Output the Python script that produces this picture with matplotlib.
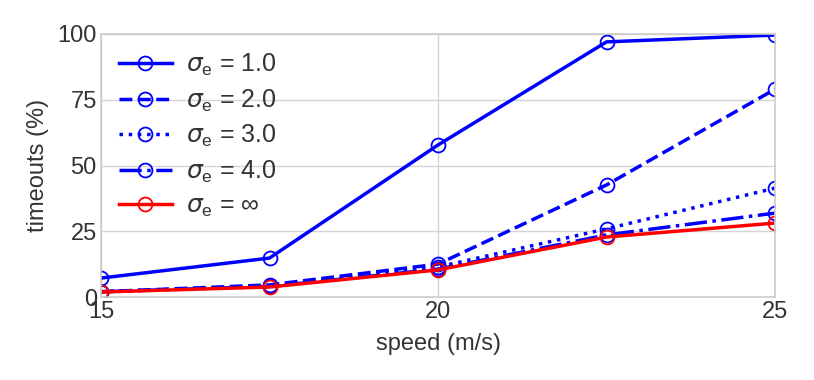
import matplotlib
matplotlib.use("Agg")
import matplotlib.pyplot as plt

speeds = [15, 17.5, 20, 22.5, 25]
s1 = [7.2, 14.8, 57.8, 97.0, 99.6]
s2 = [2.0, 4.6, 12.5, 42.6, 79.0]
s3 = [2.0, 4.2, 11.4, 25.9, 41.4]
s4 = [2.0, 4.0, 10.6, 23.6, 31.9]
sinf = [1.9, 3.8, 10.3, 22.8, 28.1]
labels = [r'$\sigma_\mathrm{e}$ = 1.0', r'$\sigma_\mathrm{e}$ = 2.0', r'$\sigma_\mathrm{e}$ = 3.0',
          r'$\sigma_\mathrm{e}$ = 4.0', r'$\sigma_\mathrm{e}$ = ∞']

plt.rcParams['font.family'] = ['Liberation Sans', 'DejaVu Sans']
plt.rcParams['mathtext.fontset'] = 'custom'
plt.rcParams['mathtext.rm'] = 'Liberation Sans'
plt.rcParams['mathtext.it'] = 'DejaVu Sans:italic'

fig = plt.figure(figsize=(8.14, 3.8), dpi=100)
ax = fig.add_axes([101/814, 1-297/380, (775-101)/814, (297-34)/380])

styles = [('-', 'blue'), ('--', 'blue'), (':', 'blue'), ('-.', 'blue'), ('-', 'red')]
for ys, (ls, c), lab in zip([s1, s2, s3, s4, sinf], styles, labels):
    ax.plot(speeds, ys, linestyle=ls, color=c, lw=2.5, marker='o', ms=10,
            mfc='none', mec=c, mew=1.3, label=lab)

ax.set_xlim(15, 25)
ax.set_ylim(0, 100)
ax.set_xticks([15, 20, 25])
ax.set_yticks([0, 25, 50, 75, 100])
ax.grid(True, color='#d4d4d4', lw=1)
ax.set_axisbelow(True)
for s in ax.spines.values():
    s.set_color('#cccccc')
    s.set_linewidth(1.2)
ax.tick_params(length=0, labelsize=17, colors='#333333', pad=3)
ax.set_xlabel('speed (m/s)', fontsize=17, color='#333333', labelpad=7)
ax.set_ylabel('timeouts (%)', fontsize=17, color='#333333', labelpad=6)
leg = ax.legend(loc='upper left', frameon=False, fontsize=18, handlelength=2.1,
                handletextpad=0.6, borderaxespad=0.32, labelspacing=0.37)
for t in leg.get_texts():
    t.set_color('#333333')
fig.savefig('out.png', dpi=100)
